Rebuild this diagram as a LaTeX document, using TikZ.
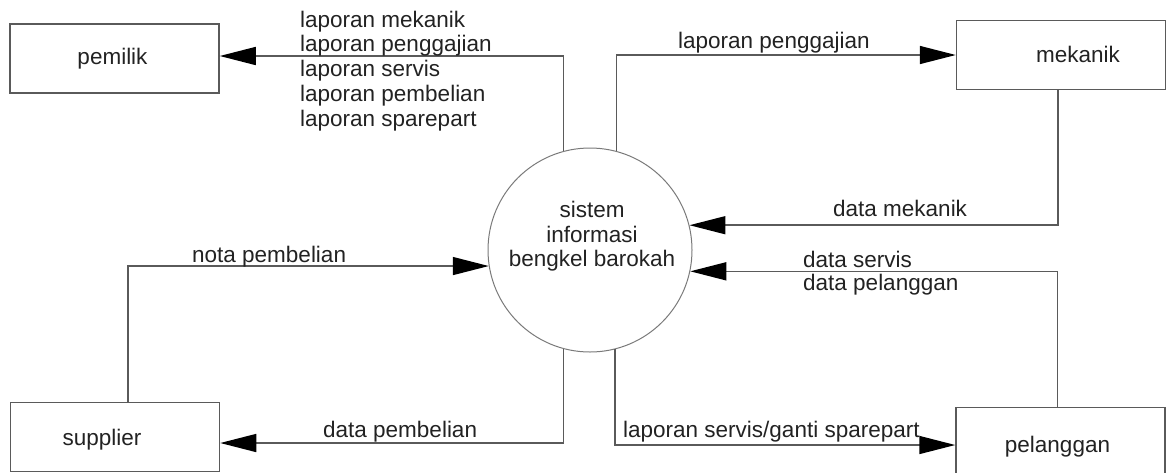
\documentclass[tikz,border=0pt]{standalone}
\usepackage{fontspec}
\setmainfont{Liberation Sans}
\usetikzlibrary{arrows.meta}
\definecolor{ink}{HTML}{222222}
\definecolor{wire}{HTML}{5A5A5A}
\definecolor{rim}{HTML}{7A7A7A}
\begin{document}
\begin{tikzpicture}[x=1pt,y=-1pt,
  every node/.style={font=\fontsize{22.5}{24.75}\selectfont, text=ink, inner sep=0pt},
  entity/.style={draw=wire, line width=1.5pt, minimum width=209pt, minimum height=69pt},
  process/.style={draw=rim, line width=1pt, circle, minimum size=204pt},
  tag/.style={anchor=base west},
  word/.style={anchor=base},
  flow/.style={draw=wire, line width=1.5pt, -{Triangle[length=36pt,width=18pt,color=black]}},
]
\useasboundingbox (0,0) rectangle (1166,472);

% external entities
\node[entity] (pemilik)   at (114.5,58.5) {};
\node[entity] (mekanik)   at (1061,55)    {};
\node[entity] (supplier)  at (115,437)    {};
\node[entity] (pelanggan) at (1060.5,442) {};
\node[word] (pemilikTxt)   at (112.5,64) {pemilik};
\node[word] (mekanikTxt)   at (1078,62)  {mekanik};
\node[word] (supplierTxt)  at (102,445)  {supplier};
\node[word] (pelangganTxt) at (1057.5,452) {pelanggan};

% the process
\node[process] (proc) at (590,250) {};
\node[word] (procA) at (592,217) {sistem};
\node[word] (procB) at (592,242) {informasi};
\node[word] (procC) at (592,266) {bengkel barokah};

% data flows
\draw[flow] (proc.105) |- ([yshift=2.5]pemilik.east);
\draw[flow] (proc.75) |- (mekanik.west);
\draw[flow] ([xshift=-3]mekanik.south) |- (proc.14);
\draw[flow] ([xshift=-3]pelanggan.north) |- (proc.-12);
\draw[flow] ([xshift=13]supplier.north) |- (proc.189);
\draw[flow] (proc.255) |- ([yshift=-6]supplier.east);
\draw[flow] (proc.284) |- ([yshift=-3]pelanggan.west);

% flow labels
\foreach \i/\t in {0/laporan mekanik,1/laporan penggajian,2/laporan servis,3/laporan pembelian,4/laporan sparepart}
  \node[tag] (own\i) at (300,27+24.75*\i) {\t};
\node[tag] (gaji)   at (678,48)  {laporan penggajian};
\node[tag] (dmek)   at (833,216) {data mekanik};
\node[tag] (dserv)  at (803,267) {data servis};
\node[tag] (dpel)   at (803,290) {data pelanggan};
\node[tag] (nota)   at (192,262) {nota pembelian};
\node[tag] (dbeli)  at (323,437) {data pembelian};
\node[tag] (lserv)  at (623,437) {laporan servis/ganti sparepart};
\end{tikzpicture}
\end{document}
